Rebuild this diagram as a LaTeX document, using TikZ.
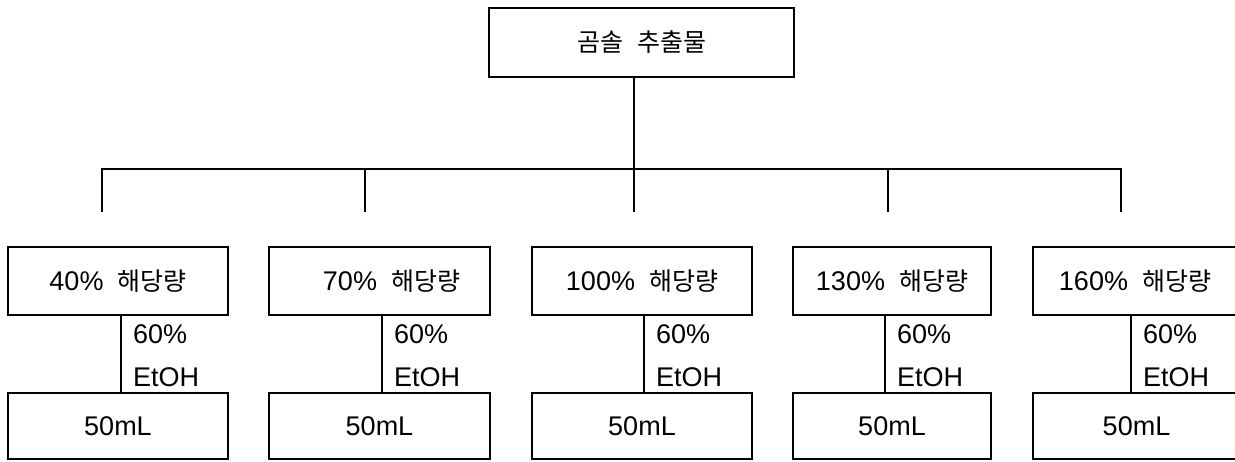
\documentclass[tikz,border=0pt]{standalone}
\usepackage{fontspec}
\setmainfont{Noto Sans CJK KR}
\newfontfamily\latf{Liberation Sans}
\newcommand{\lt}[1]{{\latf\fontsize{27}{30}\selectfont #1}}
\newcommand{\kr}[1]{{\fontsize{25}{30}\selectfont #1}}
\begin{document}
\begin{tikzpicture}[x=1pt,y=-1pt,
  topbox/.style={draw, line width=2.4pt, minimum width=305pt, minimum height=69pt, inner sep=0pt},
  stepbox/.style={draw, line width=2pt, minimum height=68pt, inner sep=0pt},
  volbox/.style={draw, line width=2pt, minimum height=66pt, inner sep=0pt},
  conn/.style={line width=2pt},
  solv/.style={anchor=west, inner sep=0pt}]
\clip (0,0) rectangle (1235,461);
\fill[white] (0,0) rectangle (1235,461);
% top box
\node[topbox] (top) at (641.5,42.5) {\kr{곰솔}\hspace{14pt}\kr{추출물}};
% branch coordinates
\coordinate (hub) at (634,169);
\coordinate (hubend) at (634,212);
\coordinate (hl) at (102,169);
\coordinate (hr) at (1121,169);
\coordinate (br1) at (102,212);
\coordinate (br2) at (365,212);
\coordinate (br4) at (888,212);
\coordinate (br5) at (1121,212);
\coordinate (bt2) at (365,169);
\coordinate (bt4) at (888,169);
\draw[conn] (top.south -| hub) -- (hubend);
\draw[conn] (br1) -- (hl) -- (hr) -- (br5);
\draw[conn] (bt2) -- (br2);
\draw[conn] (bt4) -- (br4);
% step boxes
\node[stepbox, minimum width=220pt] (s1) at (118,281) {\lt{40\%}\hspace{14pt}\kr{해당량}};
\node[stepbox, minimum width=221pt] (s2) at (379.5,281) {\hspace*{24pt}\lt{70\%}\hspace{14pt}\kr{해당량}};
\node[stepbox, minimum width=220pt] (s3) at (642,281) {\lt{100\%}\hspace{14pt}\kr{해당량}};
\node[stepbox, minimum width=198pt] (s4) at (892,281) {\lt{130\%}\hspace{14pt}\kr{해당량}};
\node[stepbox, minimum width=207pt] (s5) at (1136.5,281) {\hspace*{-3pt}\lt{160\%}\hspace{14pt}\kr{해당량}};
% volume boxes
\node[volbox, minimum width=220pt] (v1) at (118,426) {\lt{50mL}};
\node[volbox, minimum width=221pt] (v2) at (379.5,426) {\lt{50mL}};
\node[volbox, minimum width=220pt] (v3) at (642,426) {\lt{50mL}};
\node[volbox, minimum width=198pt] (v4) at (892,426) {\lt{50mL}};
\node[volbox, minimum width=207pt] (v5) at (1136.5,426) {\lt{50mL}};
% connectors with solvent labels
\foreach \i/\x in {1/121,2/382,3/644,4/885,5/1131}{
  \coordinate (c\i) at (\x,350);
  \draw[conn] (s\i.south -| c\i) -- (v\i.north -| c\i);
  \node[solv] (p\i) at (\x+12,334) {\lt{60\%}};
  \node[solv] (e\i) at (\x+12,377) {\lt{EtOH}};
}
\end{tikzpicture}
\end{document}
